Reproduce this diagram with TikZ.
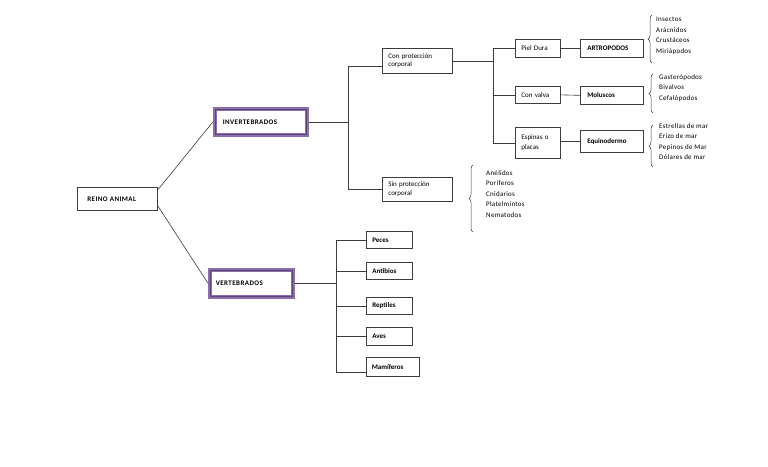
\documentclass[tikz,border=0pt]{standalone}
\usepackage{fontspec}
\setmainfont{Carlito}
\usetikzlibrary{decorations.pathreplacing,calc}
\definecolor{purp}{RGB}{140,110,175}
\definecolor{purpd}{RGB}{90,70,115}
\definecolor{lin}{RGB}{60,60,60}
\begin{document}
\begin{tikzpicture}[x=1pt,y=-1pt,
  every node/.style={font=\fontsize{7}{8.5}\selectfont},
  box/.style={draw=lin,line width=0.7pt,fill=white,anchor=north west,inner sep=0pt,align=left,text width=#1},
  boldbox/.style={box=#1,font=\fontsize{7}{8.5}\selectfont\bfseries},
  pbox/.style={draw=purp,line width=3.6pt,fill=white,anchor=north west,inner sep=0pt,align=left,
     font=\fontsize{7}{8.5}\selectfont\bfseries\addfontfeature{LetterSpace=6}},
  pin/.style={draw=purpd,line width=0.4pt},
  conn/.style={draw=lin,line width=0.6pt},
  lst/.style={anchor=north west,inner sep=0pt,align=left,font=\fontsize{7}{10.6}\selectfont\addfontfeature{LetterSpace=4}},
  brc/.style={draw=lin,line width=0.5pt,decorate,decoration={brace,amplitude=4pt}}
]
\useasboundingbox (0,0) rectangle (768,466);
% main boxes
\node[box=70pt,minimum width=80pt,minimum height=23pt,font=\fontsize{7}{8.5}\selectfont\bfseries\addfontfeature{LetterSpace=6}] (reino) at (77,187) {\hspace*{5pt}REINO ANIMAL};
\node[pbox,minimum width=92pt,minimum height=26pt,text width=88pt] (inv) at (213,107) {\hspace*{6pt}INVERTEBRADOS\\[6pt]};
\node[pbox,minimum width=83pt,minimum height=27pt,text width=79pt] (vert) at (208,268) {\hspace*{4pt}VERTEBRADOS};
\draw[pin] ([shift={(2.1,2.1)}]inv.north west) rectangle ([shift={(-2.1,-2.1)}]inv.south east);
\draw[pin] ([shift={(2.1,2.1)}]vert.north west) rectangle ([shift={(-2.1,-2.1)}]vert.south east);
% level 2
\node[box=66pt,minimum width=70pt,minimum height=25pt] (conp) at (382,48) {\hspace*{4pt}Con protección\\\hspace*{4pt}corporal};
\node[box=66pt,minimum width=70pt,minimum height=24pt] (sinp) at (382,177) {\hspace*{4pt}Sin protección\\\hspace*{4pt}corporal};
% level 3
\node[box=41pt,minimum width=45pt,minimum height=18pt] (piel) at (515,39) {\hspace*{4pt}Piel Dura};
\node[box=41pt,minimum width=45pt,minimum height=17pt] (valva) at (515,86) {\hspace*{4pt}Con valva};
\node[box=41pt,minimum width=45pt,minimum height=31pt] (espi) at (515,127) {\hspace*{4pt}Espinas o\\[2pt]\hspace*{4pt}placas};
% level 4
\node[boldbox=59pt,minimum width=63pt,minimum height=18pt] (artr) at (580,39) {\hspace*{5pt}ARTROPODOS};
\node[boldbox=59pt,minimum width=63pt,minimum height=18pt] (molu) at (580,86) {\hspace*{5pt}Moluscos};
\node[boldbox=59pt,minimum width=63pt,minimum height=22pt] (equi) at (580,130) {\hspace*{5pt}Equinodermo};
% vertebrates
\node[boldbox=42pt,minimum width=46pt,minimum height=17pt] (peces) at (366,231) {\hspace*{4pt}Peces};
\node[boldbox=42pt,minimum width=46pt,minimum height=17pt] (anti) at (366,262) {\hspace*{4pt}Antibios};
\node[boldbox=42pt,minimum width=46pt,minimum height=17pt] (rept) at (366,297) {\hspace*{4pt}Reptiles};
\node[boldbox=42pt,minimum width=46pt,minimum height=18pt] (aves) at (366,327) {\hspace*{4pt}Aves};
\node[boldbox=50pt,minimum width=53pt,minimum height=19pt] (mami) at (366,357) {\hspace*{4pt}Mamíferos};
% lists
\node[lst] (l1) at (656,17) {Insectos\\Arácnidos\\Crustáceos\\Miriápodos};
\node[lst] (l2) at (659,74) {Gasterópodos\\Bivalvos\\Cefalópodos};
\node[lst] (l3) at (659,123) {Estrellas de mar\\Erizo de mar\\Pepinos de Mar\\Dólares de mar};
\node[lst] (l4) at (486,170) {Anélidos\\Poríferos\\Cnidarios\\Platelmintos\\Nematodos};
% braces
\coordinate (b1a) at (652,63); \coordinate (b1b) at (652,15);
\coordinate (b2a) at (653,113); \coordinate (b2b) at (653,74);
\coordinate (b3a) at (653,167); \coordinate (b3b) at (653,125);
\coordinate (b4a) at (473,232); \coordinate (b4b) at (473,165);
\draw[brc] (b1a) -- (b1b);
\draw[brc] (b2a) -- (b2b);
\draw[brc] (b3a) -- (b3b);
\draw[brc] (b4a) -- (b4b);
% connectors
\draw[conn] ([yshift=-3pt]reino.north east) -- (inv.west);
\draw[conn] ([yshift=5pt]reino.south east) -- (vert.west);
\draw[conn] (inv.east) -- ++(40,0) coordinate (j1);
\draw[conn] (j1) |- ([yshift=-5pt]conp.west);
\draw[conn] (j1) |- (sinp.west);
\draw[conn] (conp.east) -- ++(41,0) coordinate (j2);
\draw[conn] (j2) |- (piel.west);
\draw[conn] (j2) |- (valva.west);
\draw[conn] (j2) |- (espi.west);
\draw[conn] (piel.east) -- (artr.west);
\draw[conn] (valva.east) -- (molu.west);
\draw[conn] (espi.east |- equi.west) -- (equi.west);
\draw[conn] (vert.east) -- ++(42,0) coordinate (j3);
\draw[conn] (j3) |- (peces.west);
\draw[conn] (j3) |- (anti.west);
\draw[conn] (j3) |- (rept.west);
\draw[conn] (j3) |- (aves.west);
\draw[conn] (j3) |- ([yshift=-5pt]mami.west);
\end{tikzpicture}
\end{document}
